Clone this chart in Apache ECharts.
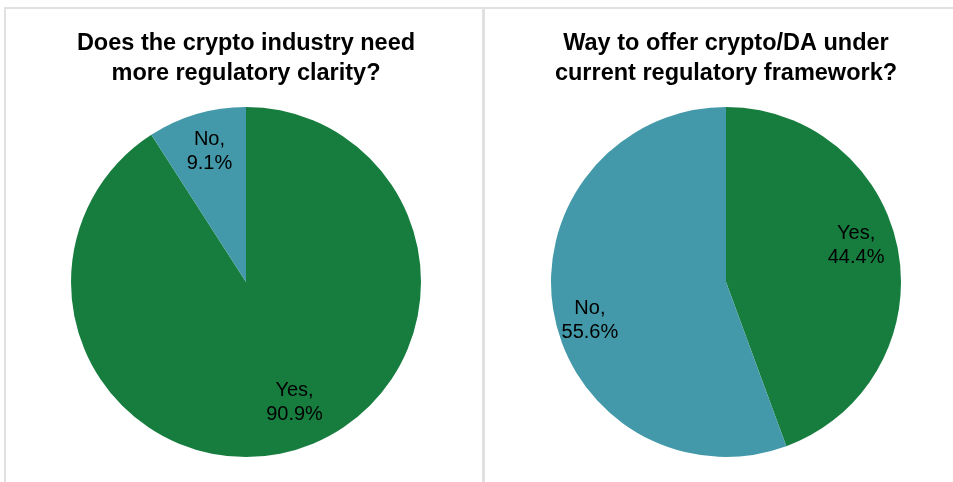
<!DOCTYPE html>
<html>
<head>
<meta charset="utf-8">
<script src="https://cdn.jsdelivr.net/npm/echarts@6/dist/echarts.min.js"></script>
<style>
  html, body { margin: 0; padding: 0; background: #ffffff; }
  #wrap { position: relative; width: 953px; height: 482px; overflow: hidden; }
  #chart { position: absolute; left: 0; top: 0; width: 953px; height: 482px; }
  .rule { position: absolute; background: #e1e1e1; }
</style>
</head>
<body>
<div id="wrap">
  <div id="chart"></div>
  <div class="rule" style="left:4px; top:7px; width:949px; height:2px;"></div>
  <div class="rule" style="left:4px; top:7px; width:2px; height:475px;"></div>
  <div class="rule" style="left:482px; top:7px; width:3px; height:475px;"></div>
</div>
<script>
// Survey answers
const categories = ['Yes', 'No'];
const clarityValues = [90.9, 9.1];   // Does the crypto industry need more regulatory clarity?
const offerValues = [44.4, 55.6];    // Way to offer crypto/DA under current regulatory framework?
const titles = [
  'Does the crypto industry need\nmore regulatory clarity?',
  'Way to offer crypto/DA under\ncurrent regulatory framework?'
];

const sliceColors = { Yes: '#177d3f', No: '#4399a9' };

// label nudges from the default mid-radius position, per pie and category
const labelNudge = [
  { Yes: [23, 34], No: [-11, -44] },
  { Yes: [41, -21], No: [-47, 23] }
];

const centers = [[246, 282], [726, 282]];

function buildPie(values, idx) {
  return {
    type: 'pie',
    center: centers[idx],
    radius: 175,
    startAngle: 90,
    clockwise: true,
    silent: true,
    animation: false,
    itemStyle: { borderWidth: 0 },
    label: {
      show: true,
      position: 'inside',
      formatter: '{b},\n{c}%',
      color: '#000000',
      fontFamily: 'Liberation Sans, Arial, sans-serif',
      fontSize: 20,
      lineHeight: 24,
      align: 'center'
    },
    labelLine: { show: false },
    data: categories.map((name, i) => ({
      name: name,
      value: values[i],
      itemStyle: { color: sliceColors[name] },
      label: { offset: labelNudge[idx][name] }
    }))
  };
}

const chart = echarts.init(document.getElementById('chart'), null, { renderer: 'canvas' });
chart.setOption({
  backgroundColor: 'transparent',
  animation: false,
  title: titles.map((t, i) => ({
    text: t,
    left: centers[i][0],
    top: 29,
    padding: 0,
    textAlign: 'center',
    textStyle: {
      fontFamily: 'Liberation Sans, Arial, sans-serif',
      fontWeight: 'bold',
      fontSize: 23.5,
      lineHeight: 30,
      color: '#000000'
    }
  })),
  series: [buildPie(clarityValues, 0), buildPie(offerValues, 1)]
});
</script>
</body>
</html>
